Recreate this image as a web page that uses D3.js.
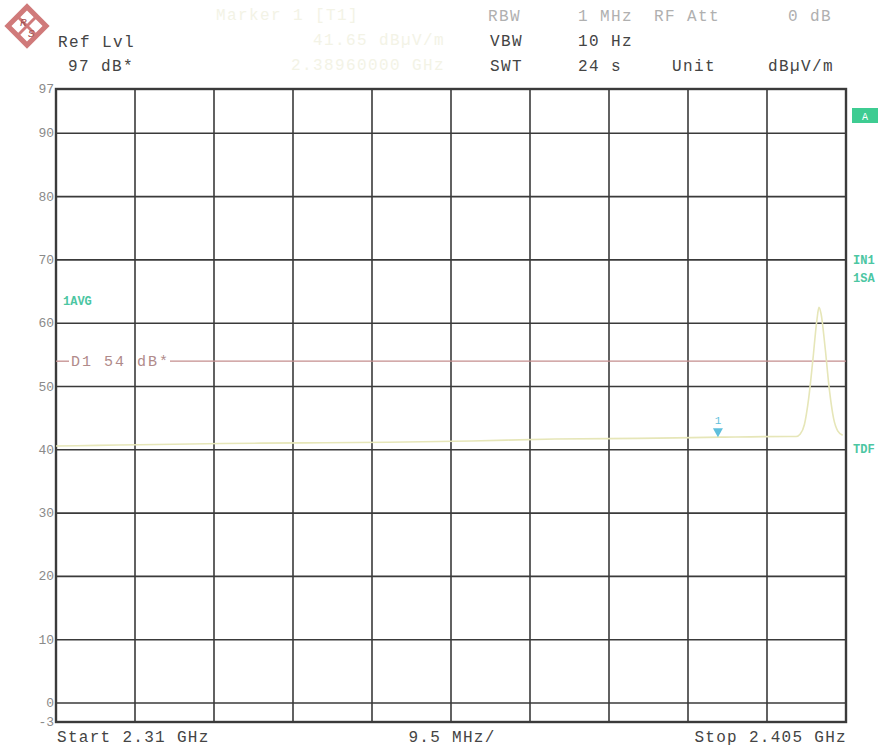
<!DOCTYPE html>
<html><head><meta charset="utf-8">
<script src="https://cdn.jsdelivr.net/npm/d3@7"></script>
<style>body{margin:0;background:#fff}svg{display:block}text{font-family:"Liberation Mono","DejaVu Sans Mono",monospace}</style>
</head><body>
<script>
// ---- data ----
const freqMHz = [2310, 2315, 2320, 2330, 2340, 2350, 2360, 2370, 2380, 2390, 2398, 2399, 2399.5, 2400, 2400.5, 2401, 2401.5, 2401.75, 2402, 2402.5, 2403, 2403.5, 2404, 2404.6];
const levelDb = [40.6, 40.7, 40.8, 41.0, 41.1, 41.2, 41.4, 41.7, 41.8, 42.0, 42.1, 42.1, 42.5, 44.0, 48.0, 54.0, 60.5, 62.5, 61.5, 56.0, 49.5, 45.0, 43.0, 42.3];
const yTicks = [97, 90, 80, 70, 60, 50, 40, 30, 20, 10, 0, -3];
const xGridMHz = [2310, 2319.5, 2329, 2338.5, 2348, 2357.5, 2367, 2376.5, 2386, 2395.5, 2405];
const displayLine = {label: "D1 54 dB*", value: 54};
const marker = {label: "1", freq: 2389.6, level: 42.0};
const headerLeft = [["Ref Lvl"], ["97 dB*"]];
const headerRows = [["RBW", "1 MHz", "RF Att", "0 dB"], ["VBW", "10 Hz", "", ""], ["SWT", "24 s", "Unit", "dBµV/m"]];
const markerInfo = ["Marker 1 [T1]", "41.65 dBµV/m", "2.38960000 GHz"];
const sideLabels = [["IN1", 70], ["1SA", 67.2], ["TDF", 40.2]];

const W = 881, H = 748;
const svg = d3.select("body").append("svg").attr("width", W).attr("height", H);
const x = d3.scaleLinear().domain([2310, 2405]).range([56, 846]);
const y = d3.scaleLinear().domain([-3, 97]).range([722, 89]);

// logo
const logo = svg.append("g").attr("transform", "translate(27,26) rotate(45)");
logo.append("rect").attr("x", -13.5).attr("y", -13.5).attr("width", 27).attr("height", 27)
  .attr("fill", "#fff").attr("stroke", "#d07a7a").attr("stroke-width", 5);
logo.append("line").attr("x1", -13).attr("y1", 0).attr("x2", 13).attr("y2", 0).attr("stroke", "#d07a7a").attr("stroke-width", 3);
logo.append("line").attr("x1", 0).attr("y1", -13).attr("x2", 0).attr("y2", 13).attr("stroke", "#d07a7a").attr("stroke-width", 3);
svg.append("text").attr("x", 20).attr("y", 26).attr("font-size", 11).attr("font-style", "italic").attr("fill", "#a05050").text("R");
svg.append("text").attr("x", 28).attr("y", 37).attr("font-size", 11).attr("font-style", "italic").attr("fill", "#a05050").text("S");

// header
const hdr = (xx, yy, t, fill, anchor) => svg.append("text").attr("x", xx).attr("y", yy)
  .attr("text-anchor", anchor || "start").attr("font-size", 16).attr("letter-spacing", 1.4).attr("fill", fill).text(t);
hdr(58, 47, headerLeft[0][0], "#444");
hdr(68, 71, headerLeft[1][0], "#444");
const colX = [[488, 578, 654, 788], [490, 578, 0, 0], [490, 578, 672, 768]];
const rowY = [21, 46, 71];
headerRows.forEach((row, i) => row.forEach((t, j) => {
  if (!t) return;
  hdr(colX[i][j], rowY[i], t, i === 0 ? "#b0b0b0" : "#444");
}));
hdr(216, 20, markerInfo[0], "#f3f3e6");
hdr(445, 45, markerInfo[1], "#f3f3e6", "end");
hdr(445, 70, markerInfo[2], "#f3f3e6", "end");

// grid
const g = svg.append("g");
g.selectAll("line.h").data(yTicks.filter(d => d !== 97 && d !== -3)).join("line")
  .attr("x1", x(2310)).attr("x2", x(2405)).attr("y1", d => y(d)).attr("y2", d => y(d))
  .attr("stroke", "#3a3a3a").attr("stroke-width", 1.6);
g.selectAll("line.v").data(xGridMHz.slice(1, -1)).join("line")
  .attr("x1", d => x(d)).attr("x2", d => x(d)).attr("y1", y(97)).attr("y2", y(-3))
  .attr("stroke", "#3a3a3a").attr("stroke-width", 1.6);
g.append("rect").attr("x", x(2310)).attr("y", y(97)).attr("width", x(2405) - x(2310)).attr("height", y(-3) - y(97))
  .attr("fill", "none").attr("stroke", "#3a3a3a").attr("stroke-width", 2.4);

// y tick labels
svg.selectAll("text.yt").data(yTicks).join("text")
  .attr("x", 54).attr("y", d => y(d) + 4).attr("text-anchor", "end")
  .attr("font-size", 13).attr("fill", "#8a8a8a").text(d => d === -3 ? "-3" : d);

// display line D1
const dy = y(displayLine.value);
svg.append("line").attr("x1", x(2310)).attr("x2", 69).attr("y1", dy).attr("y2", dy).attr("stroke", "#c48e8e").attr("stroke-width", 1.3);
svg.append("line").attr("x1", 170).attr("x2", x(2405)).attr("y1", dy).attr("y2", dy).attr("stroke", "#c48e8e").attr("stroke-width", 1.3);
svg.append("text").attr("x", 71).attr("y", dy + 5).attr("font-size", 15).attr("letter-spacing", 2).attr("fill", "#b08a8a").text(displayLine.label);

// trace
const pts = freqMHz.map((f, i) => [f, levelDb[i]]);
svg.append("path").datum(pts)
  .attr("d", d3.line().x(d => x(d[0])).y(d => y(d[1])).curve(d3.curveMonotoneX))
  .attr("fill", "none").attr("stroke", "#e6e6b8").attr("stroke-width", 1.6);

// marker
const mx = x(marker.freq), my = y(marker.level);
svg.append("path").attr("d", `M${mx - 5},${my - 9}L${mx + 5},${my - 9}L${mx},${my}Z`).attr("fill", "#5fbfdc");
svg.append("text").attr("x", mx).attr("y", my - 13).attr("text-anchor", "middle").attr("font-size", 11).attr("fill", "#5fbfdc").text(marker.label);

// labels in teal
svg.append("text").attr("x", 63).attr("y", 305).attr("font-size", 12).attr("font-weight", "bold").attr("fill", "#4cc6a2").text("1AVG");
sideLabels.forEach(([t, v]) => svg.append("text").attr("x", 853).attr("y", y(v) + 4)
  .attr("font-size", 12).attr("font-weight", "bold").attr("fill", "#4cc6a2").text(t));
svg.append("rect").attr("x", 852).attr("y", 108).attr("width", 26).attr("height", 15).attr("fill", "#3ecc92");
svg.append("text").attr("x", 865).attr("y", 120).attr("text-anchor", "middle").attr("font-size", 10).attr("fill", "#fff").text("A");

// bottom labels
const bot = (xx, t, anchor) => svg.append("text").attr("x", xx).attr("y", 742).attr("text-anchor", anchor)
  .attr("font-size", 16).attr("letter-spacing", 1.3).attr("fill", "#444").text(t);
bot(57, "Start 2.31 GHz", "start");
bot(452, "9.5 MHz/", "middle");
bot(847, "Stop 2.405 GHz", "end");
</script>
</body></html>
